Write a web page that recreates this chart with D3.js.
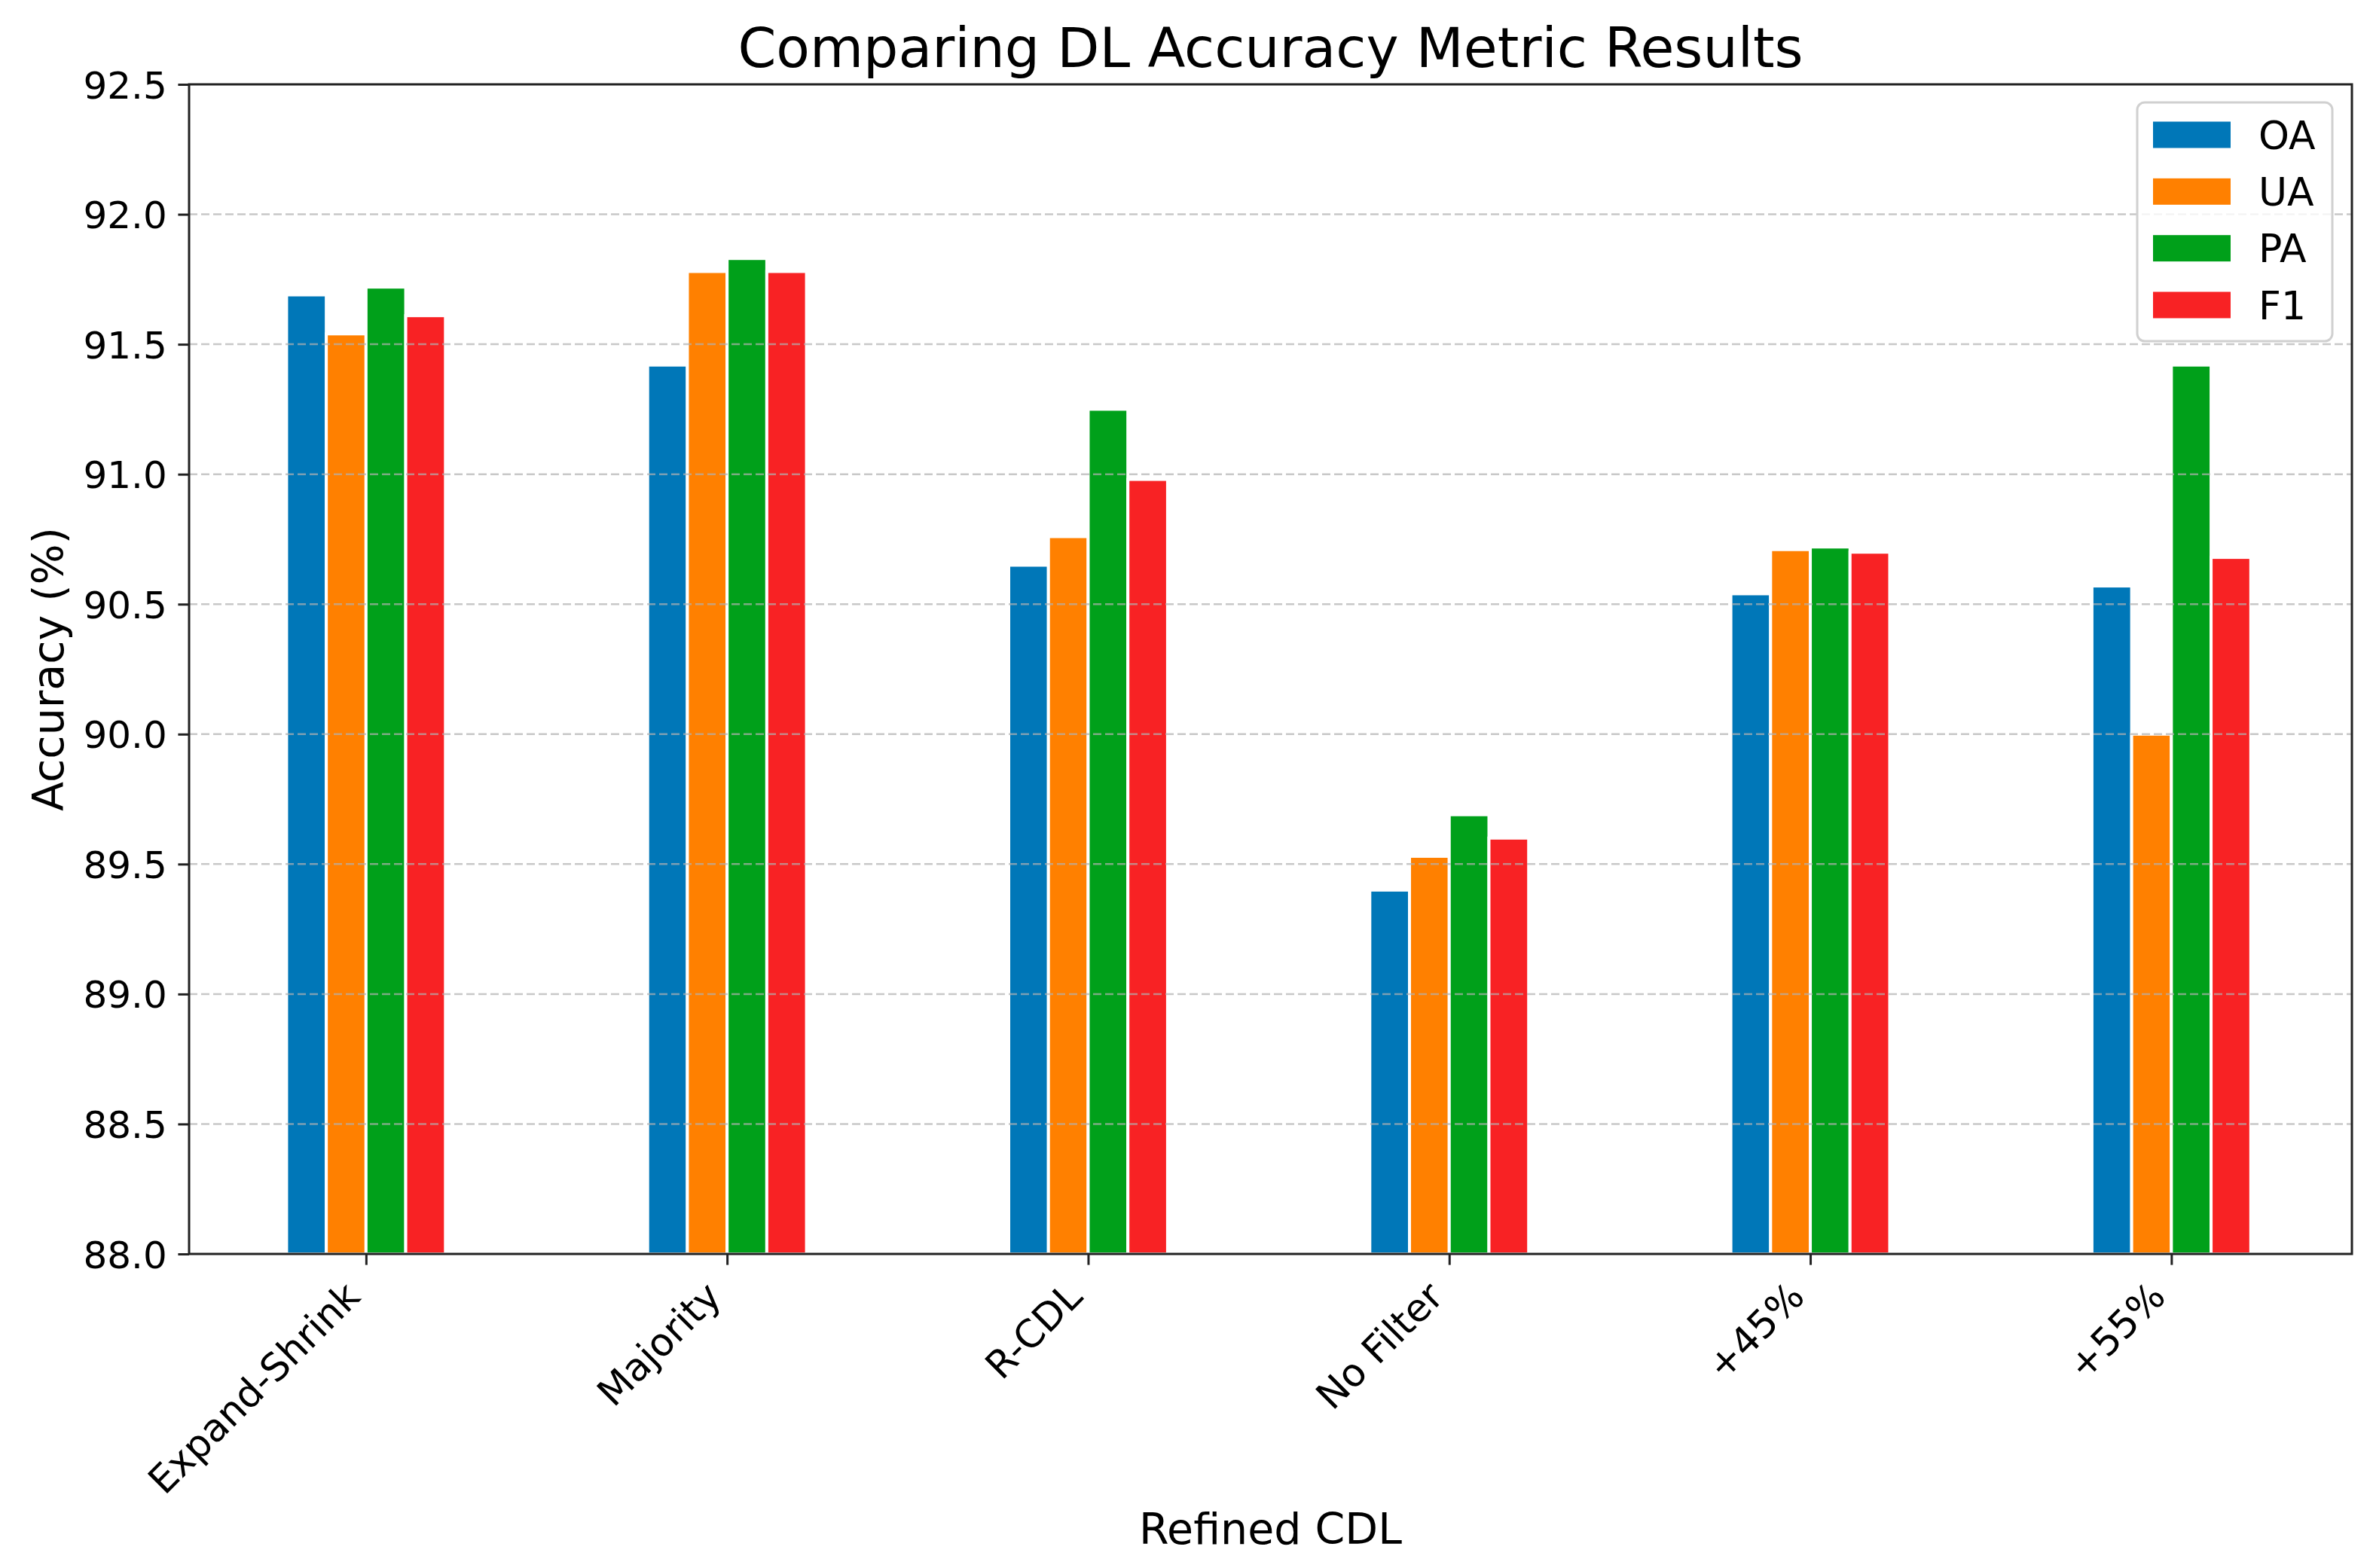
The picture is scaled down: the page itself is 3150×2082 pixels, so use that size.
<!DOCTYPE html>
<html>
<head>
    <title>Comparing DL Accuracy Metric Results</title>
    <script src="https://d3js.org/d3.v7.min.js"></script>
    <style>
        body { margin: 0; background: #fff; }
        text { font-family: "DejaVu Sans", sans-serif; fill: #000; }
    </style>
</head>
<body>
    <div id="chart"></div>
    <script>
        // Data
        const categories = ["Expand-Shrink", "Majority", "R-CDL", "No Filter", "+45%", "+55%"];
        const seriesNames = ["OA", "UA", "PA", "F1"];
        const oaValues = [91.69, 91.42, 90.65, 89.40, 90.54, 90.57];
        const uaValues = [91.54, 91.78, 90.76, 89.53, 90.71, 90.00];
        const paValues = [91.72, 91.83, 91.25, 89.69, 90.72, 91.42];
        const f1Values = [91.61, 91.78, 90.98, 89.60, 90.70, 90.68];
        const yTicks = [88.0, 88.5, 89.0, 89.5, 90.0, 90.5, 91.0, 91.5, 92.0, 92.5];

        const colors = ["#0077b8", "#ff8000", "#00a01a", "#f82224"];
        const seriesValues = [oaValues, uaValues, paValues, f1Values];

        const W = 3150, H = 2082;
        const plotLeft = 251, plotRight = 3122, plotTop = 112, plotBottom = 1665;
        const barW = 0.11;

        const svg = d3.select("#chart")
            .append("svg")
            .attr("width", W)
            .attr("height", H)
            .style("background-color", "#fff");

        const x = d3.scaleLinear().domain([-0.49, 5.5]).range([plotLeft, plotRight]);
        const y = d3.scaleLinear().domain([88, 92.5]).range([plotBottom, plotTop]);

        // Bars
        seriesValues.forEach((vals, j) => {
            svg.append("g")
                .selectAll("rect")
                .data(vals)
                .enter()
                .append("rect")
                .attr("x", (d, i) => x(i + (j - 1.5) * barW - barW / 2))
                .attr("y", d => y(d))
                .attr("width", x(barW) - x(0))
                .attr("height", d => y(88) - y(d))
                .style("fill", colors[j])
                .style("stroke", "#fff")
                .style("stroke-width", 4);
        });

        // Horizontal grid (drawn over bars like the reference)
        svg.append("g")
            .selectAll("line")
            .data(yTicks.slice(1, -1))
            .enter()
            .append("line")
            .attr("x1", plotLeft)
            .attr("x2", plotRight)
            .attr("y1", d => y(d))
            .attr("y2", d => y(d))
            .style("stroke", "#b0b0b0")
            .style("stroke-opacity", 0.7)
            .style("stroke-width", 2.5)
            .style("stroke-dasharray", "11,5");

        // Y axis
        const yAxis = svg.append("g")
            .attr("transform", `translate(${plotLeft},0)`)
            .call(d3.axisLeft(y).tickValues(yTicks).tickFormat(d3.format(".1f"))
                .tickSize(14.6).tickPadding(14.6));
        yAxis.select(".domain").remove();
        yAxis.selectAll(".tick line").style("stroke", "#222").style("stroke-width", 3);
        yAxis.selectAll(".tick text")
            .style("font-size", "50px")
            .style("font-family", "DejaVu Sans")
            .attr("dy", "0.36em");

        // X axis
        const xAxis = svg.append("g")
            .attr("transform", `translate(0,${plotBottom})`)
            .call(d3.axisBottom(x).tickValues(d3.range(categories.length))
                .tickFormat(i => categories[i]).tickSize(14.6));
        xAxis.select(".domain").remove();
        xAxis.selectAll(".tick line").style("stroke", "#222").style("stroke-width", 3);
        xAxis.selectAll(".tick text")
            .style("font-size", "51px")
            .style("font-family", "DejaVu Sans")
            .attr("text-anchor", "end")
            .attr("dominant-baseline", "central")
            .attr("x", 0)
            .attr("y", 0)
            .attr("dy", null)
            .attr("transform", "translate(-18,47) rotate(-45)");

        // Frame
        svg.append("rect")
            .attr("x", plotLeft)
            .attr("y", plotTop)
            .attr("width", plotRight - plotLeft)
            .attr("height", plotBottom - plotTop)
            .style("fill", "none")
            .style("stroke", "#222")
            .style("stroke-width", 3);

        // Title and axis labels
        svg.append("text")
            .attr("x", (plotLeft + plotRight) / 2)
            .attr("y", 89)
            .attr("text-anchor", "middle")
            .style("font-size", "73px")
            .text("Comparing DL Accuracy Metric Results");

        svg.append("text")
            .attr("x", (plotLeft + plotRight) / 2)
            .attr("y", 2050)
            .attr("text-anchor", "middle")
            .style("font-size", "57px")
            .text("Refined CDL");

        svg.append("text")
            .attr("transform", `translate(84,${(plotTop + plotBottom) / 2}) rotate(-90)`)
            .attr("text-anchor", "middle")
            .style("font-size", "57px")
            .text("Accuracy (%)");

        // Legend
        const legend = svg.append("g");
        legend.append("rect")
            .attr("x", 2837)
            .attr("y", 136)
            .attr("width", 259)
            .attr("height", 317)
            .attr("rx", 10)
            .style("fill", "#fff")
            .style("fill-opacity", 0.8)
            .style("stroke", "#d0d0d0")
            .style("stroke-width", 3);

        const rowY = d3.scalePoint().domain(seriesNames).range([179, 405]);
        const item = legend.selectAll("g.item")
            .data(seriesNames)
            .enter()
            .append("g")
            .attr("class", "item")
            .attr("transform", d => `translate(0,${rowY(d)})`);
        item.append("rect")
            .attr("x", 2858)
            .attr("y", -17.5)
            .attr("width", 103)
            .attr("height", 35)
            .style("fill", (d, i) => colors[i]);
        item.append("text")
            .attr("x", 2998)
            .attr("y", 0)
            .attr("dy", "0.36em")
            .style("font-size", "52px")
            .text(d => d);
    </script>
</body>
</html>
